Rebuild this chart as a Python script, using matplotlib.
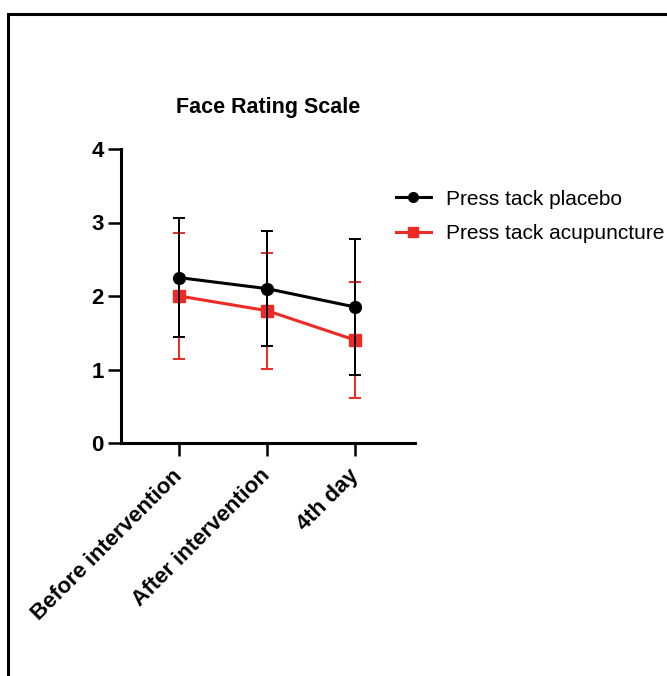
import matplotlib
matplotlib.use("Agg")
import matplotlib.pyplot as plt
from matplotlib.patches import Rectangle
from matplotlib.lines import Line2D

plt.rcParams['font.family'] = ['Liberation Sans', 'DejaVu Sans']

# data
categories = ['Before intervention', 'After intervention', '4th day']
placebo_mean = [2.25, 2.10, 1.85]
placebo_sd = [0.81, 0.78, 0.93]
acu_mean = [2.00, 1.80, 1.40]
acu_sd = [0.86, 0.79, 0.79]

red = '#ee2a24'

fig = plt.figure(figsize=(6.67, 6.76), dpi=100)
# outer frame
fig.patches.append(Rectangle((8 / 667, -0.1), 1.2, 1.1 - 14 / 676, transform=fig.transFigure,
                             fill=False, edgecolor='black', linewidth=2.2, zorder=0))

ax = fig.add_axes([121 / 667, 1 - 443 / 676, 294 / 667, 294 / 676])
x = range(len(categories))

ax.errorbar(x, acu_mean, yerr=acu_sd, color=red, linewidth=2.2, marker='s', markersize=8.5,
            elinewidth=1.4, capsize=4.3, capthick=1.4, zorder=2)
ax.errorbar(x, placebo_mean, yerr=placebo_sd, color='black', linewidth=2.2, marker='o', markersize=8.5,
            elinewidth=1.4, capsize=4.3, capthick=1.4, zorder=3)

ax.set_xlim(-0.66, 2.68)
ax.set_ylim(0, 4)
ax.set_yticks([0, 1, 2, 3, 4])
ax.set_xticks(list(x))
ax.set_xticklabels(categories, rotation=45, ha='right', va='center', rotation_mode='anchor')
for lab in ax.get_xticklabels() + ax.get_yticklabels():
    lab.set_fontweight('bold')
    lab.set_fontsize(16)
ax.tick_params(width=1.8, length=9.4, direction='out')
ax.tick_params(axis='y', pad=3)
ax.tick_params(axis='x', pad=12)
for s in ['top', 'right']:
    ax.spines[s].set_visible(False)
for s in ['left', 'bottom']:
    ax.spines[s].set_linewidth(2.2)

ax.set_title('Face Rating Scale', fontweight='bold', fontsize=15.5, pad=26)

handles = [Line2D([], [], color='black', linewidth=2.2, marker='o', markersize=7),
           Line2D([], [], color=red, linewidth=2.2, marker='s', markersize=7)]
labels = ['Press tack placebo', 'Press tack acupuncture']
fig.legend(handles, labels, loc='upper left', bbox_to_anchor=(377 / 667, 1 - 171 / 676),
           frameon=False, fontsize=15, handlelength=1.7, handletextpad=0.7, labelspacing=0.75)

fig.savefig('out.png', dpi=100)
